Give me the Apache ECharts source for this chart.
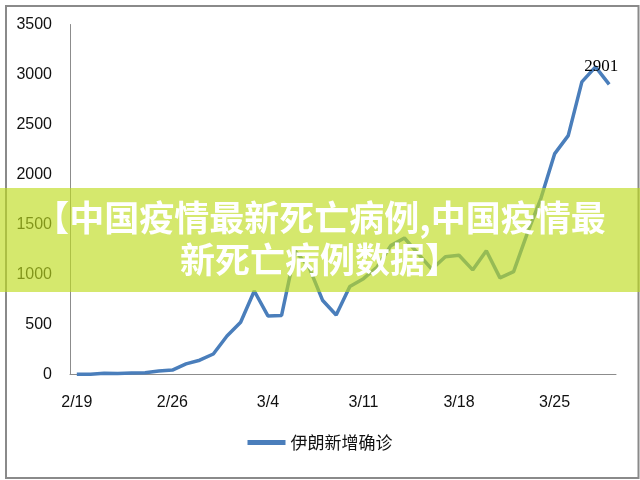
<!DOCTYPE html>
<html>
<head>
<meta charset="utf-8">
<script src="https://cdn.jsdelivr.net/npm/echarts@6/dist/echarts.min.js"></script>
<style>
html,body{margin:0;padding:0;background:#fff;}
#c{width:640px;height:480px;}
</style>
</head>
<body>
<div id="c"></div>
<script>
var categories = ['2/19','2/20','2/21','2/22','2/23','2/24','2/25','2/26','2/27','2/28','2/29',
  '3/1','3/2','3/3','3/4','3/5','3/6','3/7','3/8','3/9','3/10','3/11','3/12','3/13','3/14',
  '3/15','3/16','3/17','3/18','3/19','3/20','3/21','3/22','3/23','3/24','3/25','3/26','3/27','3/28','3/29'];
var iranNew = [2,3,13,10,15,18,34,44,106,143,205,385,523,835,586,591,1234,1076,743,595,881,958,1075,1289,1365,
  1209,1053,1178,1192,1046,1237,966,1028,1411,1762,2206,2389,2926,3076,2901];
var seriesName = '伊朗新增确诊';
var yTicks = {min: 0, max: 3500, interval: 500};
var bannerLines = ['【中国疫情最新死亡病例,中国疫情最', '新死亡病例数据】'];

var chart = echarts.init(document.getElementById('c'), null, {renderer: 'canvas'});
var lastIdx = iranNew.length - 1;
chart.setOption({
  animation: false,
  backgroundColor: '#fff',
  grid: {left: 70, right: 24, top: 24.5, bottom: 105.5},
  legend: {
    data: [seriesName],
    bottom: 24,
    left: 'center',
    itemWidth: 38,
    itemHeight: 5,
    itemGap: 4,
    icon: 'rect',
    textStyle: {fontFamily: 'Noto Sans CJK SC', fontSize: 17, color: '#111'}
  },
  xAxis: {
    type: 'category',
    data: categories,
    boundaryGap: true,
    axisLine: {lineStyle: {color: '#8c8c8c', width: 1}},
    axisTick: {show: false},
    axisLabel: {interval: 6, margin: 20, fontFamily: 'Liberation Sans', fontSize: 16, color: '#111'},
    splitLine: {show: false}
  },
  yAxis: {
    type: 'value',
    min: yTicks.min, max: yTicks.max, interval: yTicks.interval,
    axisLine: {show: true, lineStyle: {color: '#8c8c8c', width: 1}},
    axisTick: {show: false},
    axisLabel: {margin: 18, fontFamily: 'Liberation Sans', fontSize: 16, color: '#111',
      formatter: function (v) { return String(v); }},
    splitLine: {show: false}
  },
  series: [{
    name: seriesName,
    type: 'line',
    data: iranNew.map(function (v, i) {
      if (i === lastIdx) {
        return {value: v, label: {show: true, position: 'top', offset: [-8, -4],
          fontFamily: 'Liberation Serif', fontSize: 17, color: '#000'}};
      }
      return v;
    }),
    showSymbol: true,
    showAllSymbol: true,
    symbol: 'circle',
    symbolSize: 0,
    lineStyle: {color: '#4a7ebb', width: 3.5},
    itemStyle: {color: '#4a7ebb'},
    z: 2
  }],
  graphic: [
    {type: 'rect', left: 3.5, top: 3.5, shape: {width: 632.5, height: 472}, style: {fill: 'none', stroke: '#8a8a8a', lineWidth: 2}, z: 1},
    {type: 'rect', left: 0, top: 188, shape: {width: 640, height: 104}, style: {fill: 'rgba(190,220,30,0.65)'}, z: 100},
    {type: 'text', left: 'center', top: 197, z: 101,
      style: {text: bannerLines.join('\n'), fill: '#fff', font: 'bold 35px "Noto Sans CJK SC"', textAlign: 'center', lineHeight: 42}}
  ]
});
</script>
</body>
</html>
